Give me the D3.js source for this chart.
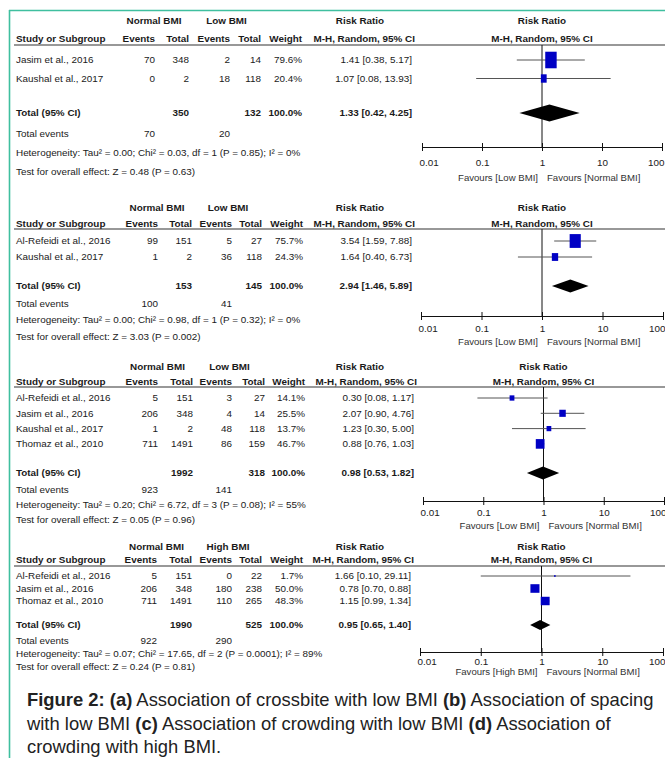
<!DOCTYPE html>
<html>
<head>
<meta charset="utf-8">
<script src="https://cdn.jsdelivr.net/npm/d3@7"></script>
<style>
  body { margin: 0; background: #fff; }
  svg text { font-family: "Liberation Sans", Arial, sans-serif; fill: #1a1a1a; }
</style>
</head>
<body>
<div id="chart"></div>
<script>
// study rows: name, normal events, normal total, group events, group total, weight, RR, lower, upper
var rowsA = [
  ["Jasim et al., 2016", 70, 348, 2, 14, 79.6, 1.41, 0.38, 5.17],
  ["Kaushal et al., 2017", 0, 2, 18, 118, 20.4, 1.07, 0.08, 13.93]
];
var rowsB = [
  ["Al-Refeidi et al., 2016", 99, 151, 5, 27, 75.7, 3.54, 1.59, 7.88],
  ["Kaushal et al., 2017", 1, 2, 36, 118, 24.3, 1.64, 0.40, 6.73]
];
var rowsC = [
  ["Al-Refeidi et al., 2016", 5, 151, 3, 27, 14.1, 0.30, 0.08, 1.17],
  ["Jasim et al., 2016", 206, 348, 4, 14, 25.5, 2.07, 0.90, 4.76],
  ["Kaushal et al., 2017", 1, 2, 48, 118, 13.7, 1.23, 0.30, 5.00],
  ["Thomaz et al., 2010", 711, 1491, 86, 159, 46.7, 0.88, 0.76, 1.03]
];
var rowsD = [
  ["Al-Refeidi et al., 2016", 5, 151, 0, 22, 1.7, 1.66, 0.10, 29.11],
  ["Jasim et al., 2016", 206, 348, 180, 238, 50.0, 0.78, 0.70, 0.88],
  ["Thomaz et al., 2010", 711, 1491, 110, 265, 48.3, 1.15, 0.99, 1.34]
];

// totals: normal total, group total, RR, lower, upper
var totalsA = [350, 132, 1.33, 0.42, 4.25];
var totalsB = [153, 145, 2.94, 1.46, 5.89];
var totalsC = [1992, 318, 0.98, 0.53, 1.82];
var totalsD = [1990, 525, 0.95, 0.65, 1.40];

// total events: normal, group
var eventsA = [70, 20];
var eventsB = [100, 41];
var eventsC = [923, 141];
var eventsD = [922, 290];

var hetTexts = [
  "Heterogeneity: Tau² = 0.00; Chi² = 0.03, df = 1 (P = 0.85); I² = 0%",
  "Heterogeneity: Tau² = 0.00; Chi² = 0.98, df = 1 (P = 0.32); I² = 0%",
  "Heterogeneity: Tau² = 0.20; Chi² = 6.72, df = 3 (P = 0.08); I² = 55%",
  "Heterogeneity: Tau² = 0.07; Chi² = 17.65, df = 2 (P = 0.0001); I² = 89%"
];
var testTexts = [
  "Test for overall effect: Z = 0.48 (P = 0.63)",
  "Test for overall effect: Z = 3.03 (P = 0.002)",
  "Test for overall effect: Z = 0.05 (P = 0.96)",
  "Test for overall effect: Z = 0.24 (P = 0.81)"
];
var groupLabels = ["Low BMI", "Low BMI", "Low BMI", "High BMI"];
var favourLabels = [
  ["Favours [Low BMI]", "Favours [Normal BMI]"],
  ["Favours [Low BMI]", "Favours [Normal BMI]"],
  ["Favours [Low BMI]", "Favours [Normal BMI]"],
  ["Favours [High BMI]", "Favours [Normal BMI]"]
];
var colHeaders = ["Events", "Total", "Events", "Total", "Weight"];
var tickValues = [0.01, 0.1, 1, 10, 100];
var tickLabels = ["0.01", "0.1", "1", "10", "100"];

var captionLines = [
  [["Figure 2: ", true], ["(a)", true], [" Association of crossbite with low BMI ", false], ["(b)", true], [" Association of spacing", false]],
  [["with low BMI ", false], ["(c)", true], [" Association of crowding with low BMI ", false], ["(d)", true], [" Association of", false]],
  [["crowding with high BMI.", false]]
];

var allRows = [rowsA, rowsB, rowsC, rowsD];
var allTotals = [totalsA, totalsB, totalsC, totalsD];
var allEvents = [eventsA, eventsB, eventsC, eventsD];

// layout of each panel (text centre y values)
var layouts = [
  {h1: 21, h2: 39, ul: 45, r0: 60, step: 18.5, tot: 113, ev: 134, het: 153, test: 172, ax: 147, tl: 163, fav: 178,
   cols: [155, 189, 230, 261, 302], rr: 412, x0: 422, x1: 662, sqH: 1.45, dH: 17},
  {h1: 208, h2: 224, ul: 229, r0: 241, step: 16, tot: 286, ev: 304, het: 320, test: 337, ax: 316, tl: 329, fav: 342,
   cols: [158, 192, 232, 262, 303], rr: 412, x0: 421, x1: 663, sqH: 1.24, dH: 13},
  {h1: 367, h2: 382, ul: 387, r0: 398, step: 15.3, tot: 473, ev: 490, het: 505, test: 520, ax: 501, tl: 513, fav: 526,
   cols: [158, 193, 232, 265, 305], rr: 414, x0: 423, x1: 664, sqH: 1.1, dH: 13},
  {h1: 547, h2: 560, ul: 566, r0: 576, step: 12.5, tot: 625, ev: 641, het: 654, test: 667, ax: 652, tl: 662, fav: 672,
   cols: [157, 192, 232, 262, 303], rr: 411, x0: 420, x1: 663, sqH: 0.95, dH: 10}
];

var w = 665;
var h = 758;
var fs = 9.9;

var svg = d3.select("#chart")
  .append("svg")
  .attr("width", w)
  .attr("height", h);

// teal frame
svg.append("line").attr("x1", 9).attr("x2", w).attr("y1", 10.5).attr("y2", 10.5)
  .attr("stroke", "#3fbf9f").attr("stroke-width", 1.6);
svg.append("line").attr("x1", 9.5).attr("x2", 9.5).attr("y1", 10).attr("y2", h)
  .attr("stroke", "#3fbf9f").attr("stroke-width", 1.6);

function fmt2(v) { return d3.format(".2f")(v); }
function ciText(rr, lo, hi) { return fmt2(rr) + " [" + fmt2(lo) + ", " + fmt2(hi) + "]"; }

function txt(g, x, y, s, anchor, bold, size) {
  return g.append("text")
    .attr("x", x)
    .attr("y", y)
    .attr("dy", "0.35em")
    .attr("text-anchor", anchor || "start")
    .attr("font-size", size || fs)
    .attr("font-weight", bold ? "bold" : "normal")
    .text(s);
}

layouts.forEach(function(L, p) {
  var g = svg.append("g");
  var rows = allRows[p];
  var totals = allTotals[p];
  var events = allEvents[p];

  var x = d3.scaleLog().domain([0.01, 100]).range([L.x0, L.x1]);
  var mid = x(1);

  // headers
  txt(g, (L.cols[0] + L.cols[1]) / 2 - 18, L.h1, "Normal BMI", "middle", true);
  txt(g, (L.cols[2] + L.cols[3]) / 2 - 19, L.h1, groupLabels[p], "middle", true);
  txt(g, 360, L.h1, "Risk Ratio", "middle", true);
  txt(g, mid, L.h1, "Risk Ratio", "middle", true);

  txt(g, 16, L.h2, "Study or Subgroup", "start", true);
  colHeaders.forEach(function(c, i) {
    txt(g, L.cols[i], L.h2, c, "end", true);
  });
  txt(g, L.rr + 3, L.h2, "M-H, Random, 95% CI", "end", true);
  txt(g, mid, L.h2, "M-H, Random, 95% CI", "middle", true);

  g.append("line")
    .attr("x1", 14).attr("x2", w)
    .attr("y1", L.ul).attr("y2", L.ul)
    .attr("stroke", "#333").attr("stroke-width", 1.2);

  // line of no effect
  g.append("line")
    .attr("x1", mid).attr("x2", mid)
    .attr("y1", L.ul).attr("y2", L.ax)
    .attr("stroke", "#111").attr("stroke-width", 1);

  // study rows
  rows.forEach(function(r, i) {
    var y = L.r0 + i * L.step;
    txt(g, 16, y, r[0]);
    [r[1], r[2], r[3], r[4]].forEach(function(v, j) {
      txt(g, L.cols[j], y, v, "end");
    });
    txt(g, L.cols[4], y, d3.format(".1f")(r[5]) + "%", "end");
    txt(g, L.rr, y, ciText(r[6], r[7], r[8]), "end");

    g.append("line")
      .attr("x1", x(r[7])).attr("x2", x(r[8]))
      .attr("y1", y).attr("y2", y)
      .attr("stroke", "#555").attr("stroke-width", 1);

    var sw = 1.28 * Math.sqrt(r[5]);
    var sh = sw * L.sqH;
    g.append("rect")
      .attr("x", x(r[6]) - sw / 2)
      .attr("y", y - sh / 2)
      .attr("width", sw)
      .attr("height", sh)
      .attr("fill", "#0000c4");
  });

  // total row
  txt(g, 16, L.tot, "Total (95% CI)", "start", true);
  txt(g, L.cols[1], L.tot, totals[0], "end", true);
  txt(g, L.cols[3], L.tot, totals[1], "end", true);
  txt(g, L.cols[4], L.tot, "100.0%", "end", true);
  txt(g, L.rr, L.tot, ciText(totals[2], totals[3], totals[4]), "end", true);

  var dh = L.dH / 2;
  g.append("path")
    .attr("d", "M" + x(totals[3]) + "," + L.tot +
      "L" + x(totals[2]) + "," + (L.tot - dh) +
      "L" + x(totals[4]) + "," + L.tot +
      "L" + x(totals[2]) + "," + (L.tot + dh) + "Z")
    .attr("fill", "#000");

  txt(g, 16, L.ev, "Total events");
  txt(g, L.cols[0], L.ev, events[0], "end");
  txt(g, L.cols[2], L.ev, events[1], "end");
  txt(g, 16, L.het, hetTexts[p]);
  txt(g, 16, L.test, testTexts[p]);

  // axis
  var axis = d3.axisBottom(x)
    .tickValues(tickValues)
    .tickFormat(function(d, i) { return tickLabels[i]; })
    .tickSizeInner(4)
    .tickSizeOuter(0);
  var ag = g.append("g")
    .attr("transform", "translate(0," + L.ax + ")")
    .call(axis);
  ag.select(".domain").attr("stroke", "#111");
  ag.selectAll(".tick line").attr("y1", -4).attr("stroke", "#111");
  ag.selectAll(".tick text")
    .attr("y", L.tl - L.ax)
    .attr("dy", "0.35em")
    .attr("font-size", fs)
    .attr("font-family", "Liberation Sans, Arial, sans-serif")
    .attr("fill", "#1a1a1a")
    .attr("text-anchor", function(d, i) {
      return i == 0 ? "start" : (i == tickValues.length - 1 ? "end" : "middle");
    })
    .attr("dx", function(d, i) {
      return i == 0 ? -3 : (i == tickValues.length - 1 ? 2 : 0);
    });

  txt(g, mid - 4, L.fav, favourLabels[p][0], "end", false, 9.6).style("fill", "#333");
  txt(g, mid + 5, L.fav, favourLabels[p][1], "start", false, 9.6).style("fill", "#333");
});

// caption
var capY = [700, 724, 747];
captionLines.forEach(function(line, i) {
  var t = svg.append("text")
    .attr("x", 27)
    .attr("y", capY[i])
    .attr("dy", "0.35em")
    .attr("font-size", 18.4)
    .style("fill", "#222");
  line.forEach(function(part) {
    t.append("tspan")
      .attr("font-weight", part[1] ? "bold" : "normal")
      .text(part[0]);
  });
});
</script>
</body>
</html>
